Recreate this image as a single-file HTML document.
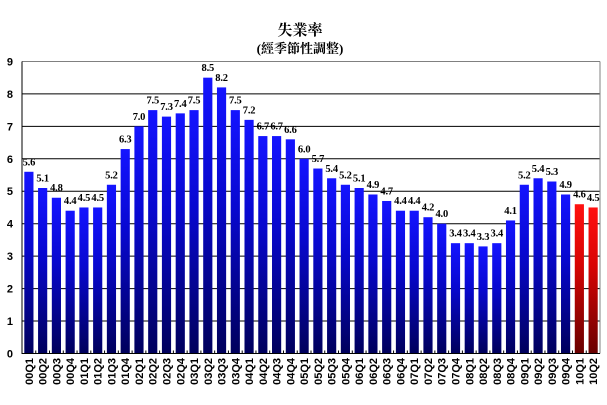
<!DOCTYPE html>
<html>
<head>
<meta charset="utf-8">
<style>
html,body{margin:0;padding:0;background:#fff;}
svg{display:block;}
.yl{font-family:"Liberation Sans",Arial,sans-serif;font-weight:bold;font-size:11px;fill:#000;}
.xl{font-family:"Liberation Sans",Arial,sans-serif;font-weight:bold;font-size:11px;fill:#000;}
.vl{font-family:"Liberation Serif","Times New Roman",serif;font-weight:bold;font-size:10.5px;fill:#000;letter-spacing:-0.2px;}
.t1{font-family:"Liberation Serif","Noto Serif CJK SC","Noto Sans CJK TC",serif;font-weight:bold;font-size:15px;fill:#000;}
.t2{font-family:"Liberation Serif","Noto Serif CJK SC","Noto Sans CJK TC",serif;font-weight:bold;font-size:13px;fill:#000;}
</style>
</head>
<body>
<svg width="607" height="405" viewBox="0 0 607 405" xmlns="http://www.w3.org/2000/svg">
<defs>
<linearGradient id="gb" x1="0" y1="0" x2="0" y2="1">
<stop offset="0" stop-color="#1414ff"/>
<stop offset="0.4" stop-color="#0808d0"/>
<stop offset="1" stop-color="#00005c"/>
</linearGradient>
<linearGradient id="gr" x1="0" y1="0" x2="0" y2="1">
<stop offset="0" stop-color="#ff1010"/>
<stop offset="0.4" stop-color="#d80404"/>
<stop offset="1" stop-color="#680000"/>
</linearGradient>
</defs>
<rect width="607" height="405" fill="#fff"/>

<text class="t1" x="300" y="35" text-anchor="middle">失業率</text>
<text class="t2" x="300" y="53" text-anchor="middle">(經季節性調整)</text>

<!-- gridlines -->
<g stroke="#000" stroke-width="1">
<line x1="22" x2="600" y1="321.05" y2="321.05"/>
<line x1="22" x2="600" y1="288.6" y2="288.6"/>
<line x1="22" x2="600" y1="256.15" y2="256.15"/>
<line x1="22" x2="600" y1="223.7" y2="223.7"/>
<line x1="22" x2="600" y1="191.25" y2="191.25"/>
<line x1="22" x2="600" y1="158.8" y2="158.8"/>
<line x1="22" x2="600" y1="126.35" y2="126.35"/>
<line x1="22" x2="600" y1="93.9" y2="93.9"/>
</g>
<line x1="22" x2="600" y1="61.45" y2="61.45" stroke="#808080" stroke-width="1"/>
<line x1="600" x2="600" y1="61.45" y2="353.5" stroke="#808080" stroke-width="1"/>

<!-- y labels -->
<g class="yl" text-anchor="end">
<text x="13" y="357.5">0</text>
<text x="13" y="325">1</text>
<text x="13" y="292.6">2</text>
<text x="13" y="260.1">3</text>
<text x="13" y="227.7">4</text>
<text x="13" y="195.2">5</text>
<text x="13" y="162.8">6</text>
<text x="13" y="130.3">7</text>
<text x="13" y="97.9">8</text>
<text x="13" y="65.4">9</text>
</g>

<!-- bars -->
<g fill="url(#gb)">
<rect x="24.30" y="171.78" width="9.17" height="181.72"/>
<rect x="38.06" y="188.00" width="9.17" height="165.50"/>
<rect x="51.82" y="197.74" width="9.17" height="155.76"/>
<rect x="65.58" y="210.72" width="9.17" height="142.78"/>
<rect x="79.34" y="207.47" width="9.17" height="146.03"/>
<rect x="93.10" y="207.47" width="9.17" height="146.03"/>
<rect x="106.87" y="184.76" width="9.17" height="168.74"/>
<rect x="120.63" y="149.06" width="9.17" height="204.44"/>
<rect x="134.39" y="126.35" width="9.17" height="227.15"/>
<rect x="148.15" y="110.12" width="9.17" height="243.38"/>
<rect x="161.91" y="116.61" width="9.17" height="236.89"/>
<rect x="175.68" y="113.37" width="9.17" height="240.13"/>
<rect x="189.44" y="110.12" width="9.17" height="243.38"/>
<rect x="203.20" y="77.67" width="9.17" height="275.83"/>
<rect x="216.96" y="87.41" width="9.17" height="266.09"/>
<rect x="230.72" y="110.12" width="9.17" height="243.38"/>
<rect x="244.49" y="119.86" width="9.17" height="233.64"/>
<rect x="258.25" y="136.08" width="9.17" height="217.42"/>
<rect x="272.01" y="136.08" width="9.17" height="217.42"/>
<rect x="285.77" y="139.33" width="9.17" height="214.17"/>
<rect x="299.53" y="158.80" width="9.17" height="194.70"/>
<rect x="313.30" y="168.53" width="9.17" height="184.97"/>
<rect x="327.06" y="178.27" width="9.17" height="175.23"/>
<rect x="340.82" y="184.76" width="9.17" height="168.74"/>
<rect x="354.58" y="188.00" width="9.17" height="165.50"/>
<rect x="368.34" y="194.49" width="9.17" height="159.01"/>
<rect x="382.11" y="200.98" width="9.17" height="152.52"/>
<rect x="395.87" y="210.72" width="9.17" height="142.78"/>
<rect x="409.63" y="210.72" width="9.17" height="142.78"/>
<rect x="423.39" y="217.21" width="9.17" height="136.29"/>
<rect x="437.15" y="223.70" width="9.17" height="129.80"/>
<rect x="450.92" y="243.17" width="9.17" height="110.33"/>
<rect x="464.68" y="243.17" width="9.17" height="110.33"/>
<rect x="478.44" y="246.41" width="9.17" height="107.09"/>
<rect x="492.20" y="243.17" width="9.17" height="110.33"/>
<rect x="505.96" y="220.45" width="9.17" height="133.05"/>
<rect x="519.73" y="184.76" width="9.17" height="168.74"/>
<rect x="533.49" y="178.27" width="9.17" height="175.23"/>
<rect x="547.25" y="181.51" width="9.17" height="171.99"/>
<rect x="561.01" y="194.49" width="9.17" height="159.01"/>
</g>
<g fill="url(#gr)">
<rect x="574.77" y="204.23" width="9.17" height="149.27"/>
<rect x="588.54" y="207.47" width="9.17" height="146.03"/>
</g>

<!-- axes -->
<line x1="22" x2="22" y1="61.45" y2="354" stroke="#000" stroke-width="1"/>
<line x1="22" x2="600" y1="353.5" y2="353.5" stroke="#000" stroke-width="1"/>
<g stroke="#000" stroke-width="1">
<line x1="35.76" x2="35.76" y1="350.5" y2="353.5"/>
<line x1="49.52" x2="49.52" y1="350.5" y2="353.5"/>
<line x1="63.29" x2="63.29" y1="350.5" y2="353.5"/>
<line x1="77.05" x2="77.05" y1="350.5" y2="353.5"/>
<line x1="90.81" x2="90.81" y1="350.5" y2="353.5"/>
<line x1="104.57" x2="104.57" y1="350.5" y2="353.5"/>
<line x1="118.33" x2="118.33" y1="350.5" y2="353.5"/>
<line x1="132.10" x2="132.10" y1="350.5" y2="353.5"/>
<line x1="145.86" x2="145.86" y1="350.5" y2="353.5"/>
<line x1="159.62" x2="159.62" y1="350.5" y2="353.5"/>
<line x1="173.38" x2="173.38" y1="350.5" y2="353.5"/>
<line x1="187.14" x2="187.14" y1="350.5" y2="353.5"/>
<line x1="200.90" x2="200.90" y1="350.5" y2="353.5"/>
<line x1="214.67" x2="214.67" y1="350.5" y2="353.5"/>
<line x1="228.43" x2="228.43" y1="350.5" y2="353.5"/>
<line x1="242.19" x2="242.19" y1="350.5" y2="353.5"/>
<line x1="255.95" x2="255.95" y1="350.5" y2="353.5"/>
<line x1="269.71" x2="269.71" y1="350.5" y2="353.5"/>
<line x1="283.48" x2="283.48" y1="350.5" y2="353.5"/>
<line x1="297.24" x2="297.24" y1="350.5" y2="353.5"/>
<line x1="311.00" x2="311.00" y1="350.5" y2="353.5"/>
<line x1="324.76" x2="324.76" y1="350.5" y2="353.5"/>
<line x1="338.52" x2="338.52" y1="350.5" y2="353.5"/>
<line x1="352.29" x2="352.29" y1="350.5" y2="353.5"/>
<line x1="366.05" x2="366.05" y1="350.5" y2="353.5"/>
<line x1="379.81" x2="379.81" y1="350.5" y2="353.5"/>
<line x1="393.57" x2="393.57" y1="350.5" y2="353.5"/>
<line x1="407.33" x2="407.33" y1="350.5" y2="353.5"/>
<line x1="421.10" x2="421.10" y1="350.5" y2="353.5"/>
<line x1="434.86" x2="434.86" y1="350.5" y2="353.5"/>
<line x1="448.62" x2="448.62" y1="350.5" y2="353.5"/>
<line x1="462.38" x2="462.38" y1="350.5" y2="353.5"/>
<line x1="476.14" x2="476.14" y1="350.5" y2="353.5"/>
<line x1="489.90" x2="489.90" y1="350.5" y2="353.5"/>
<line x1="503.67" x2="503.67" y1="350.5" y2="353.5"/>
<line x1="517.43" x2="517.43" y1="350.5" y2="353.5"/>
<line x1="531.19" x2="531.19" y1="350.5" y2="353.5"/>
<line x1="544.95" x2="544.95" y1="350.5" y2="353.5"/>
<line x1="558.71" x2="558.71" y1="350.5" y2="353.5"/>
<line x1="572.48" x2="572.48" y1="350.5" y2="353.5"/>
<line x1="586.24" x2="586.24" y1="350.5" y2="353.5"/>
</g>

<!-- value labels -->
<g class="vl" text-anchor="middle">
<text x="28.88" y="165.3">5.6</text>
<text x="42.64" y="181.5">5.1</text>
<text x="56.40" y="191.2">4.8</text>
<text x="70.17" y="204.2">4.4</text>
<text x="83.93" y="201.0">4.5</text>
<text x="97.69" y="201.0">4.5</text>
<text x="111.45" y="178.3">5.2</text>
<text x="125.21" y="142.6">6.3</text>
<text x="138.98" y="119.9">7.0</text>
<text x="152.74" y="103.6">7.5</text>
<text x="166.50" y="110.1">7.3</text>
<text x="180.26" y="106.9">7.4</text>
<text x="194.02" y="103.6">7.5</text>
<text x="207.79" y="71.2">8.5</text>
<text x="221.55" y="80.9">8.2</text>
<text x="235.31" y="103.6">7.5</text>
<text x="249.07" y="113.4">7.2</text>
<text x="262.83" y="129.6">6.7</text>
<text x="276.60" y="129.6">6.7</text>
<text x="290.36" y="132.8">6.6</text>
<text x="304.12" y="152.3">6.0</text>
<text x="317.88" y="162.0">5.7</text>
<text x="331.64" y="171.8">5.4</text>
<text x="345.40" y="178.3">5.2</text>
<text x="359.17" y="181.5">5.1</text>
<text x="372.93" y="188.0">4.9</text>
<text x="386.69" y="194.5">4.7</text>
<text x="400.45" y="204.2">4.4</text>
<text x="414.21" y="204.2">4.4</text>
<text x="427.98" y="210.7">4.2</text>
<text x="441.74" y="217.2">4.0</text>
<text x="455.50" y="236.7">3.4</text>
<text x="469.26" y="236.7">3.4</text>
<text x="483.02" y="239.9">3.3</text>
<text x="496.79" y="236.7">3.4</text>
<text x="510.55" y="214.0">4.1</text>
<text x="524.31" y="178.3">5.2</text>
<text x="538.07" y="171.8">5.4</text>
<text x="551.83" y="175.0">5.3</text>
<text x="565.60" y="188.0">4.9</text>
<text x="579.36" y="197.7">4.6</text>
<text x="593.12" y="201.0">4.5</text>
</g>

<!-- x labels -->
<g class="xl" text-anchor="end">
<text transform="translate(28.88,358) rotate(-90)" y="4">00Q1</text>
<text transform="translate(42.64,358) rotate(-90)" y="4">00Q2</text>
<text transform="translate(56.40,358) rotate(-90)" y="4">00Q3</text>
<text transform="translate(70.17,358) rotate(-90)" y="4">00Q4</text>
<text transform="translate(83.93,358) rotate(-90)" y="4">01Q1</text>
<text transform="translate(97.69,358) rotate(-90)" y="4">01Q2</text>
<text transform="translate(111.45,358) rotate(-90)" y="4">01Q3</text>
<text transform="translate(125.21,358) rotate(-90)" y="4">01Q4</text>
<text transform="translate(138.98,358) rotate(-90)" y="4">02Q1</text>
<text transform="translate(152.74,358) rotate(-90)" y="4">02Q2</text>
<text transform="translate(166.50,358) rotate(-90)" y="4">02Q3</text>
<text transform="translate(180.26,358) rotate(-90)" y="4">02Q4</text>
<text transform="translate(194.02,358) rotate(-90)" y="4">03Q1</text>
<text transform="translate(207.79,358) rotate(-90)" y="4">03Q2</text>
<text transform="translate(221.55,358) rotate(-90)" y="4">03Q3</text>
<text transform="translate(235.31,358) rotate(-90)" y="4">03Q4</text>
<text transform="translate(249.07,358) rotate(-90)" y="4">04Q1</text>
<text transform="translate(262.83,358) rotate(-90)" y="4">04Q2</text>
<text transform="translate(276.60,358) rotate(-90)" y="4">04Q3</text>
<text transform="translate(290.36,358) rotate(-90)" y="4">04Q4</text>
<text transform="translate(304.12,358) rotate(-90)" y="4">05Q1</text>
<text transform="translate(317.88,358) rotate(-90)" y="4">05Q2</text>
<text transform="translate(331.64,358) rotate(-90)" y="4">05Q3</text>
<text transform="translate(345.40,358) rotate(-90)" y="4">05Q4</text>
<text transform="translate(359.17,358) rotate(-90)" y="4">06Q1</text>
<text transform="translate(372.93,358) rotate(-90)" y="4">06Q2</text>
<text transform="translate(386.69,358) rotate(-90)" y="4">06Q3</text>
<text transform="translate(400.45,358) rotate(-90)" y="4">06Q4</text>
<text transform="translate(414.21,358) rotate(-90)" y="4">07Q1</text>
<text transform="translate(427.98,358) rotate(-90)" y="4">07Q2</text>
<text transform="translate(441.74,358) rotate(-90)" y="4">07Q3</text>
<text transform="translate(455.50,358) rotate(-90)" y="4">07Q4</text>
<text transform="translate(469.26,358) rotate(-90)" y="4">08Q1</text>
<text transform="translate(483.02,358) rotate(-90)" y="4">08Q2</text>
<text transform="translate(496.79,358) rotate(-90)" y="4">08Q3</text>
<text transform="translate(510.55,358) rotate(-90)" y="4">08Q4</text>
<text transform="translate(524.31,358) rotate(-90)" y="4">09Q1</text>
<text transform="translate(538.07,358) rotate(-90)" y="4">09Q2</text>
<text transform="translate(551.83,358) rotate(-90)" y="4">09Q3</text>
<text transform="translate(565.60,358) rotate(-90)" y="4">09Q4</text>
<text transform="translate(579.36,358) rotate(-90)" y="4">10Q1</text>
<text transform="translate(593.12,358) rotate(-90)" y="4">10Q2</text>
</g>
</svg>
</body>
</html>
